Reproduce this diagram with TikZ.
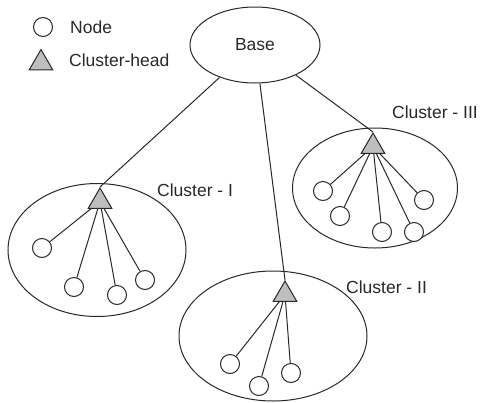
\documentclass[tikz,border=0pt]{standalone}
\usepackage{fontspec}
\setmainfont{Liberation Sans}
\usetikzlibrary{shapes.geometric}
\definecolor{ln}{RGB}{40,40,40}
\definecolor{headfill}{RGB}{190,190,190}
\begin{document}
\begin{tikzpicture}[x=1pt,y=-1pt,
  every node/.style={font=\fontsize{17.5}{20}\selectfont, text=ln},
  conn/.style={draw=ln, line width=1pt},
  oval/.style={ellipse, draw=ln, line width=1pt, inner sep=0pt},
  sensor/.style={circle, draw=ln, line width=1pt, fill=white, minimum size=19pt, inner sep=0pt},
  head/.style={regular polygon, regular polygon sides=3, draw=ln, line width=1pt, fill=headfill, minimum size=27pt, inner sep=0pt},
  lbl/.style={anchor=west, inner sep=0pt}]
\useasboundingbox (0,0) rectangle (482,402);
% legend
\node[sensor] (lc) at (43,27) {};
\node[lbl] (ln1) at (70,27) {Node};
\node[head] (lt) at (41,63) {};
\node[lbl] (ln2) at (69,60) {Cluster-head};
% base
\node[oval, minimum width=130pt, minimum height=76pt] (base) at (255,45) {Base};
% cluster ellipses
\node[oval, minimum width=178pt, minimum height=133pt] (e1) at (97,250) {};
\node[oval, minimum width=188pt, minimum height=130pt] (e2) at (273,336) {};
\node[oval, minimum width=165pt, minimum height=120pt] (e3) at (375,188) {};
% labels
\node[lbl] (l1) at (157,190) {Cluster - I};
\node[lbl] (l2) at (346,287) {Cluster - II};
\node[lbl] (l3) at (392,112) {Cluster - III};
% heads (positioned by centroid)
\coordinate (h1) at (100,201.5);
\coordinate (h2) at (285,294.5);
\coordinate (h3) at (373,146.5);
% sensor nodes
\node[sensor] (a1) at (42,248) {};
\node[sensor] (a2) at (74,287) {};
\node[sensor] (a3) at (117,295) {};
\node[sensor] (a4) at (145,280) {};
\node[sensor] (b1) at (230,364) {};
\node[sensor] (b2) at (259,386) {};
\node[sensor] (b3) at (291,373) {};
\node[sensor] (c1) at (323,191) {};
\node[sensor] (c2) at (340,216) {};
\node[sensor] (c3) at (382,232) {};
\node[sensor] (c4) at (414,232) {};
\node[sensor] (c5) at (424,200) {};
% connectors inside clusters (drawn beneath the heads)
\foreach \n in {a1,a2,a3,a4} \draw[conn] (h1) -- (\n);
\foreach \n in {b1,b2,b3} \draw[conn] (h2) -- (\n);
\foreach \n in {c1,c2,c3,c4,c5} \draw[conn] (h3) -- (\n);
% heads
\node[head] (t1) at (h1) {};
\node[head] (t2) at (h2) {};
\node[head] (t3) at (h3) {};
% base links
\draw[conn] (base) -- (t1.corner 1);
\draw[conn] (base) -- (t2.corner 1);
\draw[conn] (base) -- (t3.corner 1);
\end{tikzpicture}
\end{document}
